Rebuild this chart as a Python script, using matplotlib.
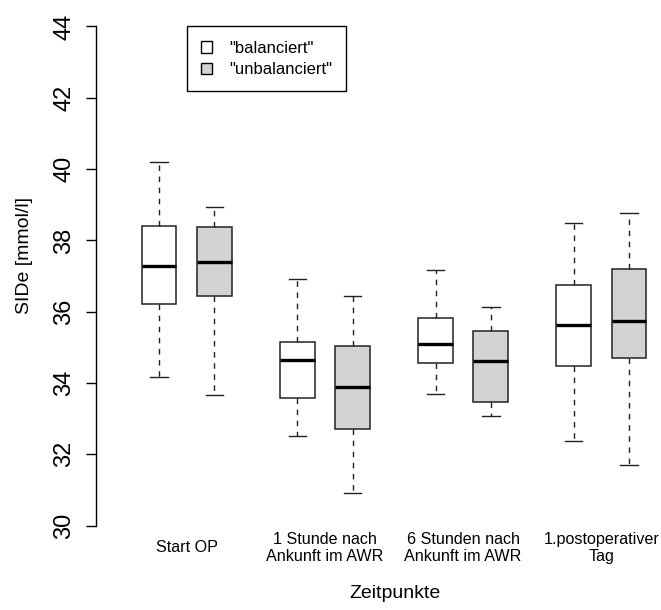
import numpy as np
import matplotlib
matplotlib.use('Agg')
import matplotlib.pyplot as plt
import matplotlib.transforms as mtransforms
from matplotlib.patches import Patch

plt.rcParams['font.family'] = ['Liberation Sans', 'DejaVu Sans']

# Werte (je Zeitpunkt: balanciert, unbalanciert)
groups = ['Start OP', '1 Stunde nach\nAnkunft im AWR', '6 Stunden nach\nAnkunft im AWR',
          '1.postoperativer\nTag']
series = ['"balanciert"', '"unbalanciert"']
whislo = [34.17, 33.66, 32.52, 30.91, 33.70, 33.07, 32.38, 31.69]
q1 = [36.23, 36.45, 33.58, 32.70, 34.57, 33.48, 34.47, 34.69]
med = [37.27, 37.40, 34.64, 33.89, 35.09, 34.61, 35.62, 35.75]
q3 = [38.41, 38.38, 35.14, 35.03, 35.83, 35.46, 36.74, 37.19]
whishi = [40.20, 38.93, 36.92, 36.44, 37.16, 36.12, 38.48, 38.77]
yticks = [30, 32, 34, 36, 38, 40, 42, 44]

positions = [1, 2, 3.5, 4.5, 6, 7, 8.5, 9.5]
colors = ['white', '#D3D3D3'] * 4


def main():
    W, H = 661, 610
    fig = plt.figure(figsize=(W / 100, H / 100), dpi=100)
    left, right, top, bottom = 95.7, 656.7, 6.5, 545.6
    ax = fig.add_axes([left / W, 1 - bottom / H, (right - left) / W, (bottom - top) / H])

    stats = []
    for i in range(len(med)):
        stats.append({'whislo': whislo[i], 'q1': q1[i], 'med': med[i],
                      'q3': q3[i], 'whishi': whishi[i], 'fliers': []})

    bp = ax.bxp(stats, positions=positions, widths=0.63, patch_artist=True,
                showfliers=False,
                boxprops=dict(edgecolor='#222222', linewidth=1.1),
                medianprops=dict(color='black', linewidth=2.4, solid_capstyle='butt'),
                whiskerprops=dict(color='#222222', linewidth=1.0, linestyle=(0, (4, 4))),
                capprops=dict(color='#222222', linewidth=1.0),
                capwidths=0.315)
    for patch, c in zip(bp['boxes'], colors):
        patch.set_facecolor(c)

    ax.set_xlim(-0.145, 10.0)
    ax.set_ylim(29.44, 44.56)

    for s in ['top', 'right', 'bottom']:
        ax.spines[s].set_visible(False)
    ax.spines['left'].set_bounds(30, 44)
    ax.spines['left'].set_linewidth(1.0)
    ax.set_xticks([])
    ax.set_yticks(yticks)
    ax.set_yticklabels([str(t) for t in yticks], rotation=90, va='center', fontsize=17)
    ax.tick_params(axis='y', length=7.5, width=1.0, pad=7)

    # Beschriftung der Zeitpunkte
    trans = mtransforms.blended_transform_factory(ax.transData, ax.transAxes)
    centers = [(positions[2 * i] + positions[2 * i + 1]) / 2 for i in range(len(groups))]
    for xc, lab in zip(centers, groups):
        ax.text(xc, (bottom - 548) / (bottom - top), lab, transform=trans,
                ha='center', va='center', fontsize=11.6, multialignment='center',
                clip_on=False)

    ax.text((395 - left) / (right - left), (bottom - 593) / (bottom - top), 'Zeitpunkte',
            transform=ax.transAxes, ha='center', va='center', fontsize=14)
    ax.text((24 - left) / (right - left), (bottom - 255) / (bottom - top), 'SIDe [mmol/l]',
            transform=ax.transAxes, ha='center', va='center', rotation=90, fontsize=14)

    handles = [Patch(facecolor=colors[0], edgecolor='black', linewidth=1.0),
               Patch(facecolor=colors[1], edgecolor='black', linewidth=1.0)]
    leg = ax.legend(handles, series, loc='upper left', bbox_to_anchor=(1.5, 44),
                    bbox_transform=ax.transData, fontsize=12.0, frameon=True,
                    fancybox=False, framealpha=1, edgecolor='black', borderaxespad=0,
                    handlelength=0.7, handleheight=0.7, handletextpad=1.0,
                    borderpad=0.85, labelspacing=0.4)
    leg.get_frame().set_linewidth(1.0)

    fig.savefig('out.png', dpi=100)


if __name__ == "__main__":
    main()
